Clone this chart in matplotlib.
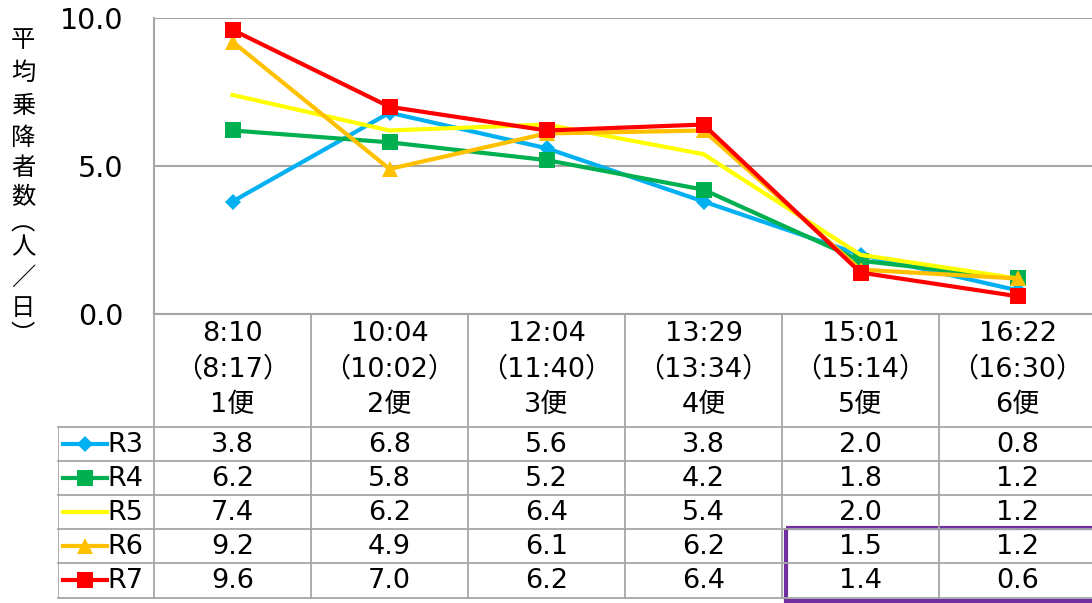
import matplotlib
matplotlib.use("Agg")
import matplotlib.pyplot as plt
from matplotlib.patches import Rectangle
from matplotlib.lines import Line2D

plt.rcParams['font.family'] = ['DejaVu Sans', 'Noto Sans CJK JP']

# ---- data ----
times = ["8:10", "10:04", "12:04", "13:29", "15:01", "16:22"]
times2 = ["（8:17）", "（10:02）", "（11:40）", "（13:34）", "（15:14）", "（16:30）"]
trips = ["1便", "2便", "3便", "4便", "5便", "6便"]
series_names = ["R3", "R4", "R5", "R6", "R7"]
R3 = [3.8, 6.8, 5.6, 3.8, 2.0, 0.8]
R4 = [6.2, 5.8, 5.2, 4.2, 1.8, 1.2]
R5 = [7.4, 6.2, 6.4, 5.4, 2.0, 1.2]
R6 = [9.2, 4.9, 6.1, 6.2, 1.5, 1.2]
R7 = [9.6, 7.0, 6.2, 6.4, 1.4, 0.6]
series = [R3, R4, R5, R6, R7]
colors = ["#00B0F0", "#00B050", "#FFFF00", "#FFC000", "#FF0000"]
markers = ["D", "s", None, "^", "s"]
msizes = [8, 11, 0, 11, 11]
ylabel = "平均乗降者数（人／日）"

W, H = 1092, 603
fig = plt.figure(figsize=(W / 100, H / 100), dpi=100)

def fx(px):
    return px / W

def fy(py):
    return 1 - py / H

FS = 19.5

# plot area
left, right, top, bottom = 154, 1096, 18, 314
ax = fig.add_axes([fx(left), fy(bottom), fx(right - left), (bottom - top) / H])
ax.set_xlim(-0.5, 5.5)
ax.set_ylim(0, 10)
x = list(range(len(times)))
for vals, c, m, ms in zip(series, colors, markers, msizes):
    ax.plot(x, vals, color=c, lw=3, marker=m, markersize=ms,
            markeredgewidth=0, zorder=3, clip_on=False)
ax.set_yticks([0, 5, 10])
ax.set_yticklabels([f"{v:.1f}" for v in [0, 5, 10]], fontsize=20.5)
ax.tick_params(axis='y', length=0, pad=22)
ax.set_xticks([])
ax.yaxis.grid(True, color="#a6a6a6", lw=1.5)
ax.set_axisbelow(True)
for s in ["top", "right"]:
    ax.spines[s].set_visible(False)
for s in ["left", "bottom"]:
    ax.spines[s].set_color("#a6a6a6")
    ax.spines[s].set_linewidth(1.5)

# y label, stacked vertical characters
vchars = list(ylabel.replace("（", "︵").replace("）", "︶"))
ypos = [40, 73, 106, 138, 168, 197, 223, 247, 278, 308, 335]
for ch, yp in zip(vchars, ypos):
    fig.text(fx(23), fy(yp), ch, fontsize=17.5, ha="center", va="center",
             family=['Noto Sans CJK JP'])

# ---- data table ----
tleft = 58
tbot = 603
tax = fig.add_axes([fx(tleft), 0, fx(right - tleft), fy(bottom)])
xl = -0.5 - (left - tleft) / ((right - left) / 6)
tax.set_xlim(xl, 5.5)
tax.set_ylim(tbot, bottom)
tax.axis("off")

gc = "#a6a6a6"
row_lines = [427, 461, 495, 529, 563, 598]
for yv in row_lines:
    tax.plot([xl, 5.6], [yv, yv], color=gc, lw=1.3, clip_on=False)
for i in range(7):
    tax.plot([i - 0.5, i - 0.5], [bottom, row_lines[-1]], color=gc, lw=1.3, clip_on=False)
tax.plot([xl, xl], [row_lines[0], row_lines[-1]], color=gc, lw=1.3)

for i in range(6):
    tax.text(i, 334, times[i], ha="center", va="center", fontsize=FS)
    tax.text(i, 369, times2[i], ha="center", va="center", fontsize=FS)
    tax.text(i, 405, trips[i], ha="center", va="center", fontsize=FS)

for r, (name, vals, c, m, ms) in enumerate(zip(series_names, series, colors, markers, msizes)):
    yc = (row_lines[r] + row_lines[r + 1]) / 2
    for i, v in enumerate(vals):
        tax.text(i, yc + 1, f"{v:.1f}", ha="center", va="center", fontsize=FS)
    tax.add_line(Line2D([xl + 0.03, xl + 0.31], [yc, yc], color=c, lw=3))
    if m is not None:
        tax.plot([xl + 0.17], [yc], marker=m, color=c, markersize=ms,
                 markeredgewidth=0)
    tax.text(xl + 0.315, yc + 1, name, ha="left", va="center", fontsize=FS)

tax.add_patch(Rectangle((3.525, 528), 2.2, 73, fill=False,
                        edgecolor="#7030A0", lw=3, clip_on=False))

fig.savefig("out.png", dpi=100)
